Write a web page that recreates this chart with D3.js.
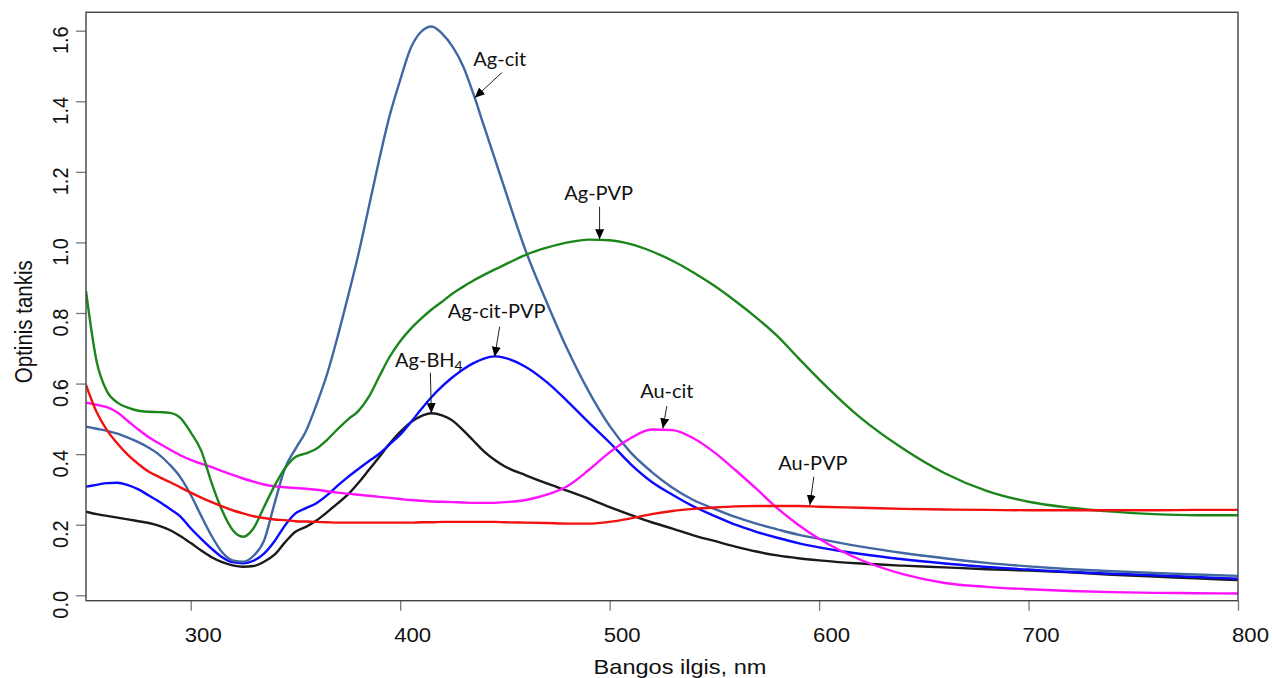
<!DOCTYPE html>
<html><head><meta charset="utf-8">
<script src="https://cdn.jsdelivr.net/npm/d3@7"></script>
<style>body{margin:0;background:#fff} svg{display:block}</style>
</head><body><svg id="c" width="1273" height="678"></svg>
<script>
// ---------- DATA ----------
const wavelengths = [250,255,260,265,270,275,280,285,290,295,300,305,310,315,320,325,330,335,340,345,350,355,360,365,370,375,380,385,390,395,400,405,410,415,420,425,430,435,440,445,450,
  460,470,480,490,500,510,520,530,540,550,560,570,580,590,600,
  620,640,660,680,700,720,740,760,780,800];

const agCit = [.478,.472,.466,.458,.447,.434,.418,.398,.370,.335,.285,.225,.168,.122,.099,.095,.112,.155,.260,.360,.415,.465,.540,.625,.730,.845,.965,1.10,1.235,1.36,1.46,1.55,1.597,1.612,1.592,1.555,1.50,1.42,1.33,1.24,1.15,
  .975,.83,.695,.578,.48,.405,.35,.305,.27,.245,.222,.203,.187,.172,.16,
  .138,.12,.105,.092,.082,.074,.068,.063,.059,.055];

const agPVP = [.862,.665,.578,.546,.532,.523,.520,.519,.517,.503,.462,.410,.318,.240,.185,.166,.190,.250,.310,.360,.392,.402,.415,.440,.470,.498,.522,.562,.620,.676,.720,.755,.784,.810,.832,.855,.874,.892,.908,.923,.937,
  .965,.985,1.0,1.008,1.006,.995,.975,.948,.915,.877,.834,.787,.735,.673,.612,
  .502,.416,.346,.296,.265,.248,.237,.230,.227,.227];

const agCitPVP = [.308,.313,.318,.319,.312,.300,.283,.265,.245,.224,.190,.160,.132,.108,.094,.091,.098,.118,.153,.198,.232,.247,.261,.283,.310,.335,.358,.380,.401,.428,.455,.490,.527,.562,.592,.618,.640,.658,.671,.677,.673,
  .647,.604,.549,.490,.433,.372,.322,.285,.252,.225,.200,.180,.163,.148,.136,
  .117,.102,.090,.080,.073,.066,.061,.057,.052,.047];

const agBH4 = [.237,.230,.225,.220,.215,.210,.205,.197,.185,.168,.148,.127,.108,.094,.085,.081,.083,.095,.115,.150,.180,.194,.212,.235,.260,.285,.318,.355,.392,.430,.463,.490,.508,.516,.510,.495,.468,.438,.408,.384,.365,
  .340,.317,.296,.274,.250,.228,.207,.189,.170,.154,.138,.124,.113,.105,.099,
  .090,.084,.079,.074,.070,.065,.058,.053,.048,.043];

const auCit = [.546,.540,.533,.518,.494,.470,.448,.430,.413,.397,.384,.373,.363,.352,.341,.331,.322,.314,.309,.306,.304,.302,.299,.295,.291,.288,.285,.282,.279,.276,.273,.270,.268,.266,.265,.264,.263,.262,.262,.262,.264,
  .270,.285,.310,.355,.405,.445,.470,.468,.445,.405,.355,.302,.247,.200,.160,
  .100,.060,.035,.024,.017,.012,.009,.007,.006,.005];

const auPVP = [.596,.520,.468,.430,.398,.372,.350,.335,.321,.306,.291,.277,.264,.252,.241,.232,.224,.219,.215,.213,.210,.209,.208,.207,.206,.206,.206,.206,.206,.206,.206,.206,.207,.207,.208,.208,.208,.208,.208,.208,.207,
  .206,.205,.203,.203,.208,.218,.230,.239,.245,.249,.252,.253,.253,.253,.251,
  .248,.245,.243,.242,.241,.241,.241,.241,.242,.242];

const seriesNames = ["Ag-BH4","Ag-cit-PVP","Ag-cit","Au-cit","Ag-PVP","Au-PVP"];
const seriesValues = [agBH4, agCitPVP, agCit, auCit, agPVP, auPVP];
const seriesColors = ["#1a1a1a","#0a0aff","#4167a2","#ff10ff","#1c861c","#f21010"];

const xTicks = [300,400,500,600,700,800];
const yTicks = [0,0.2,0.4,0.6,0.8,1.0,1.2,1.4,1.6];
const xTitle = "Bangos ilgis, nm";
const yTitle = "Optinis tankis";

// annotations: label, arrow tip (wavelength, value)
const annotText = ["Ag-cit","Ag-PVP","Ag-cit-PVP","Ag-BH","Au-cit","Au-PVP"];
const annotSub  = ["","","","4","",""];
const annotWl   = [435.6, 495.2, 445.1, 414.9, 525.4, 595.6];
const annotVal  = [1.41, 1.009, 0.676, 0.516, 0.473, 0.256];

// ---------- LAYOUT ----------
const box = {l:86, r:1238, t:12.3, b:600.7};
const x = d3.scaleLinear().domain([250,800]).range([box.l, box.r]);
const y = d3.scaleLinear().domain([0,1.6]).range([595.3, 30.7]);

const svg = d3.select("#c");
svg.append("defs").append("marker")
  .attr("id","ah").attr("markerUnits","userSpaceOnUse")
  .attr("markerWidth",11).attr("markerHeight",9)
  .attr("refX",10).attr("refY",4.5).attr("orient","auto")
  .append("path").attr("d","M0,0 L10,4.5 L0,9 Z").attr("fill","#000");
svg.select("defs").append("clipPath").attr("id","clip")
  .append("rect").attr("x",box.l).attr("y",box.t).attr("width",box.r-box.l).attr("height",box.b-box.t);

// axes (ticks only)
const gx = svg.append("g").attr("transform",`translate(0,${box.b})`)
  .call(d3.axisBottom(x).tickValues(xTicks).tickSize(10).tickFormat(""));
const gy = svg.append("g").attr("transform",`translate(${box.l},0)`)
  .call(d3.axisLeft(y).tickValues(yTicks).tickSize(10).tickFormat(""));
[gx,gy].forEach(g=>{g.select(".domain").remove(); g.selectAll("line").attr("stroke","#777").attr("stroke-width",1.3);});

const fmt = d3.format(".1f");
const font = "'Liberation Sans', Arial, sans-serif";
svg.append("g").selectAll("text").data(xTicks).join("text")
  .attr("transform", d=>`translate(${x(d)+12.5},642) scale(1.08,1)`)
  .attr("text-anchor","middle").attr("font-family",font).attr("font-size",20.5).attr("fill","#111")
  .text(d=>d);
svg.append("g").selectAll("text").data(yTicks).join("text")
  .attr("transform", d=>`translate(67.5,${y(d)+9.5}) scale(1.12,1) rotate(-90)`)
  .attr("text-anchor","middle").attr("font-family",font).attr("font-size",20).attr("fill","#111")
  .text(d=>fmt(d));

svg.append("text").attr("transform","translate(680,674) scale(1.15,1)")
  .attr("text-anchor","middle").attr("font-family",font).attr("font-size",20.5).attr("fill","#111").text(xTitle);
svg.append("text").attr("transform","translate(32,321.7) scale(1.15,1) rotate(-90)")
  .attr("text-anchor","middle").attr("font-family",font).attr("font-size",20.5).attr("fill","#111").text(yTitle);

// lines
const line = d3.line().x((d,i)=>x(wavelengths[i])).y(d=>y(d)).curve(d3.curveMonotoneX);
svg.append("g").attr("clip-path","url(#clip)").selectAll("path").data(seriesValues).join("path")
  .attr("d", d=>line(d)).attr("fill","none")
  .attr("stroke",(d,i)=>seriesColors[i]).attr("stroke-width",2.4).attr("stroke-linejoin","round");

// frame
svg.append("rect").attr("x",box.l).attr("y",box.t).attr("width",box.r-box.l).attr("height",box.b-box.t)
  .attr("fill","none").attr("stroke","#444").attr("stroke-width",1.4);

// annotations
const startOff = [[27,-25],[0,-32.5],[5,-30],[-1,-40.5],[4,-22.3],[4,-28.3]];
const textPos  = [[25,-32],[-1,-39],[2,-38.5],[-2.5,-46],[4,-30],[3,-35]];
const ag = svg.append("g");
annotText.forEach((t,i)=>{
  const tx = x(annotWl[i]), ty = y(annotVal[i]);
  ag.append("line").attr("x1",tx+startOff[i][0]).attr("y1",ty+startOff[i][1])
    .attr("x2",tx).attr("y2",ty).attr("stroke","#222").attr("stroke-width",1)
    .attr("marker-end","url(#ah)");
  const txt = ag.append("text").attr("x",tx+textPos[i][0]).attr("y",ty+textPos[i][1])
    .attr("text-anchor","middle").attr("font-family","Lato, 'Open Sans', sans-serif")
    .attr("font-size",20).attr("fill","#111").text(t);
  if (annotSub[i]) txt.append("tspan").attr("font-size",14).attr("dy",4).text(annotSub[i]);
});
</script></body></html>
